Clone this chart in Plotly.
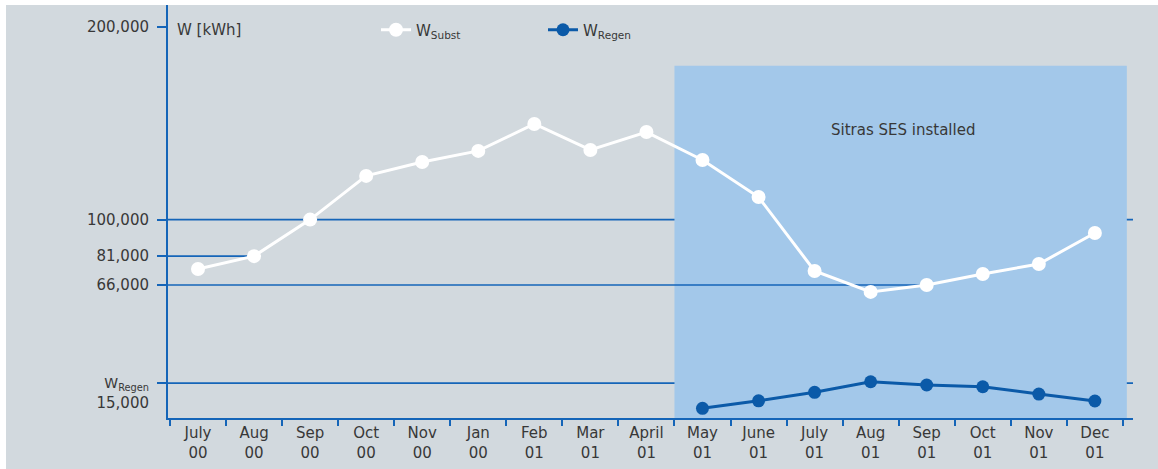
import plotly.graph_objects as go

months = ["July<br>00", "Aug<br>00", "Sep<br>00", "Oct<br>00", "Nov<br>00", "Jan<br>00",
          "Feb<br>01", "Mar<br>01", "April<br>01", "May<br>01", "June<br>01", "July<br>01",
          "Aug<br>01", "Sep<br>01", "Oct<br>01", "Nov<br>01", "Dec<br>01"]
w_subst = [74300, 81000, 100000, 122700, 129900, 135700, 149700, 136200, 145500,
           131000, 111700, 73300, 62400, 66000, 71700, 76900, 93000]
regen_months = months[9:]
w_regen = [1900, 5800, 10200, 15700, 14000, 13100, 9300, 5700]
tick_vals = [200000, 100000, 81000, 66000, 15000]
tick_text = ["200,000", "100,000", "81,000", "66,000",
             "<br><span style='font-size:14px'>W<sub>Regen</sub></span><br>15,000"]

BLUE = "#1565b8"
DARK = "#0b5aa8"
GREY = "#d2d9de"
LIGHTBLUE = "#a3c8ea"
TXT = "#383838"
FONT = "DejaVu Sans"

fig = go.Figure()
fig.add_trace(go.Scatter(x=months, y=w_subst, mode="lines+markers", name="W<sub>Subst</sub>",
                         line=dict(color="white", width=3),
                         marker=dict(color="white", size=14)))
fig.add_trace(go.Scatter(x=regen_months, y=w_regen, mode="lines+markers", name="W<sub>Regen</sub>",
                         line=dict(color=DARK, width=3),
                         marker=dict(color=DARK, size=13)))

L, R, T, B = 168, 25, 5, 51
W, H = 1158, 469
pw, ph = W - L - R, H - T - B

shapes = [
    dict(type="rect", xref="paper", yref="paper", x0=(6 - L) / pw, x1=(W - L) / pw + 0.01,
         y0=-B / ph - 0.01, y1=1.0, fillcolor=GREY, line=dict(width=0), layer="below"),
    dict(type="rect", xref="x", yref="y", x0=8.5, x1=16.57, y0=-3150, y1=180000,
         fillcolor=LIGHTBLUE, line=dict(width=0), layer="below"),
    dict(type="line", xref="paper", yref="y", x0=0, x1=1, y0=100000, y1=100000,
         line=dict(color=BLUE, width=1.6), layer="below"),
    dict(type="line", xref="x", yref="y", x0=-0.535, x1=1, y0=81000, y1=81000,
         line=dict(color=BLUE, width=1.6), layer="below"),
    dict(type="line", xref="x", yref="y", x0=-0.535, x1=13, y0=66000, y1=66000,
         line=dict(color=BLUE, width=1.6), layer="below"),
    dict(type="line", xref="paper", yref="y", x0=0, x1=1, y0=15000, y1=15000,
         line=dict(color=BLUE, width=1.6), layer="below"),
]

fig.update_layout(
    width=W, height=H,
    margin=dict(l=L, r=R, t=T, b=B, autoexpand=False),
    paper_bgcolor="white", plot_bgcolor=GREY,
    font=dict(family=FONT, size=15, color=TXT),
    shapes=shapes,
    showlegend=True,
    legend=dict(orientation="h", x=(376 - L) / pw, y=(418 - 30) / ph, xanchor="left", yanchor="middle",
                bgcolor="rgba(0,0,0,0)", font=dict(size=15, color=TXT),
                entrywidth=122, entrywidthmode="pixels"),
    annotations=[
        dict(text="W [kWh]", xref="paper", yref="paper", x=(175 - L) / pw, y=(418 - 30) / ph,
             xanchor="left", yanchor="middle", showarrow=False, font=dict(size=15, color=TXT)),
        dict(text="Sitras SES installed", xref="paper", yref="paper", x=(903 - L) / pw, y=(418 - 130) / ph,
             xanchor="center", yanchor="middle", showarrow=False, font=dict(size=15, color=TXT)),
    ],
    xaxis=dict(type="category", range=[-0.535, 16.68], showline=True, linecolor=BLUE, linewidth=2,
               ticks="outside", tickson="boundaries", ticklen=6, tickcolor=BLUE, tickwidth=2,
               showgrid=False, zeroline=False, tickfont=dict(size=15, color=TXT), automargin=False),
    yaxis=dict(range=[-3150, 211550], showline=True, linecolor=BLUE, linewidth=2,
               tickvals=tick_vals, ticktext=tick_text, ticks="outside", ticklen=9,
               tickcolor=BLUE, tickwidth=2, showgrid=False, zeroline=False,
               tickfont=dict(size=15, color=TXT), ticklabelstandoff=5, automargin=False),
)

fig.write_html("out.html", config={"displayModeBar": False},
               post_script="document.body.style.margin='0px';")
